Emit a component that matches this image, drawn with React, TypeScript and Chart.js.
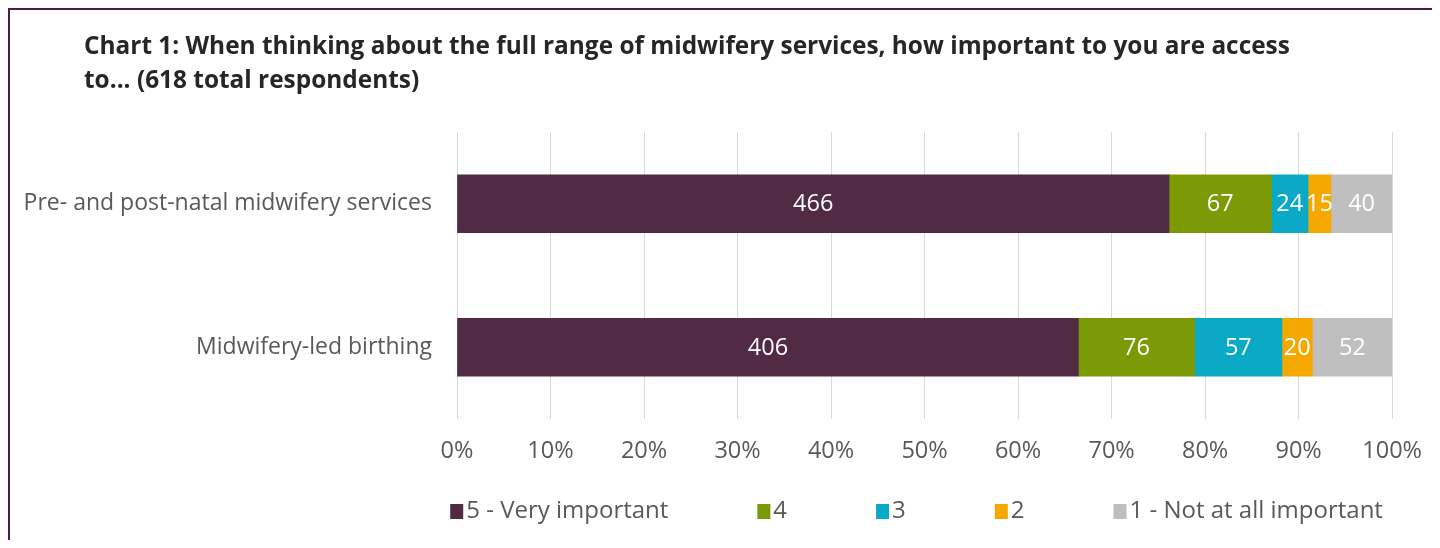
import React, { useEffect, useRef } from "react";
import { Chart, registerables } from "chart.js";

Chart.register(...registerables);

const titleLines = [
  "Chart 1: When thinking about the full range of midwifery services, how important to you are access",
  "to... (618 total respondents)",
];
const categories = ["Pre- and post-natal midwifery services", "Midwifery-led birthing"];
const seriesNames = ["5 - Very important", "4", "3", "2", "1 - Not at all important"];
const veryImportant = [466, 406];
const four = [67, 76];
const three = [24, 57];
const two = [15, 20];
const notAtAllImportant = [40, 52];
const seriesColors = ["#512a44", "#7b9a05", "#0aa9c5", "#f5a800", "#bfbfbf"];
const xTickValues = [0, 10, 20, 30, 40, 50, 60, 70, 80, 90, 100];

const counts = [veryImportant, four, three, two, notAtAllImportant];
const totals = categories.map((_, j) => counts.reduce((s, arr) => s + arr[j], 0));

const FONT = "'Open Sans', sans-serif";

const dataLabelPlugin = {
  id: "dataLabels",
  afterDatasetsDraw(chart: any) {
    const ctx = chart.ctx;
    ctx.save();
    ctx.font = `23.5px ${FONT}`;
    ctx.fillStyle = "#ffffff";
    ctx.textAlign = "center";
    ctx.textBaseline = "middle";
    chart.data.datasets.forEach((ds: any, i: number) => {
      const meta = chart.getDatasetMeta(i);
      meta.data.forEach((bar: any, j: number) => {
        const p = bar.getProps(["x", "y", "base"], true);
        ctx.fillText(String(ds.counts[j]), (p.x + p.base) / 2, p.y + 1);
      });
    });
    ctx.restore();
  },
};

const legendPlugin = {
  id: "customLegend",
  afterDraw(chart: any) {
    const ctx = chart.ctx;
    const area = chart.chartArea;
    const xScale = chart.scales.x;
    const y = xScale.bottom + 45;
    const box = 13;
    const boxGap = 3;
    const itemGap = 89;
    ctx.save();
    ctx.font = `24px ${FONT}`;
    ctx.textBaseline = "middle";
    ctx.textAlign = "left";
    const items = chart.data.datasets.map((ds: any) => ({
      label: ds.label,
      color: ds.backgroundColor,
      w: box + boxGap + ctx.measureText(ds.label).width,
    }));
    const total = items.reduce((s: number, it: any) => s + it.w, 0) + itemGap * (items.length - 1);
    let x = (area.left + area.right) / 2 - 8 - total / 2;
    items.forEach((it: any) => {
      ctx.fillStyle = it.color;
      ctx.fillRect(x, y - 7, box, 15);
      ctx.fillStyle = "#595959";
      ctx.fillText(it.label, x + box + boxGap, y);
      x += it.w + itemGap;
    });
    ctx.restore();
  },
};

export default function App() {
  const canvasRef = useRef<HTMLCanvasElement>(null);

  useEffect(() => {
    const canvas = canvasRef.current;
    if (!canvas) return;
    const chart = new Chart(canvas, {
      type: "bar",
      data: {
        labels: categories,
        datasets: counts.map((arr, i) => ({
          label: seriesNames[i],
          data: arr.map((v, j) => (v / totals[j]) * 100),
          counts: arr,
          backgroundColor: seriesColors[i],
          borderWidth: 0,
          barThickness: 58,
        })) as any,
      },
      options: {
        indexAxis: "y",
        animation: false,
        responsive: false,
        maintainAspectRatio: false,
        layout: { padding: { top: 132, right: 47, bottom: 82, left: 0 } },
        plugins: {
          legend: { display: false },
          title: { display: false },
          tooltip: { enabled: false },
        },
        scales: {
          x: {
            stacked: true,
            min: 0,
            max: 100,
            afterBuildTicks: (scale: any) => {
              scale.ticks = xTickValues.map((v) => ({ value: v }));
            },
            afterFit: (scale: any) => {
              scale.height = 47;
            },
            ticks: {
              padding: 18,
              color: "#595959",
              font: { family: FONT, size: 23.5 },
              callback: (v: any) => `${v}%`,
              maxRotation: 0,
            },
            grid: { color: "#d9d9d9", drawTicks: false, lineWidth: 1 },
            border: { display: false },
          },
          y: {
            stacked: true,
            afterFit: (scale: any) => {
              scale.width = 457;
            },
            ticks: {
              padding: 17,
              color: "#595959",
              font: { family: FONT, size: 23 },
            },
            grid: { display: false },
            border: { display: false },
          },
        },
      },
      plugins: [dataLabelPlugin, legendPlugin],
    } as any);
    return () => chart.destroy();
  }, []);

  return (
    <div style={{ position: "relative", width: 1440, height: 548, margin: -8, background: "#fff", overflow: "hidden" }}>
      <canvas ref={canvasRef} width={1440} height={548} style={{ position: "absolute", left: 0, top: 0, width: 1440, height: 548 }} />
      <div
        style={{
          position: "absolute",
          left: 7,
          top: 7,
          right: -4,
          bottom: -4,
          borderTop: "3px solid #4a1c46",
          borderLeft: "3px solid #4a1c46",
          pointerEvents: "none",
        }}
      />
      <div
        style={{
          position: "absolute",
          left: 84,
          top: 28,
          fontFamily: FONT,
          fontWeight: 700,
          fontSize: 24.4,
          lineHeight: "34px",
          color: "#262626",
          whiteSpace: "nowrap",
        }}
      >
        {titleLines[0]}
        <br />
        {titleLines[1]}
      </div>
    </div>
  );
}
